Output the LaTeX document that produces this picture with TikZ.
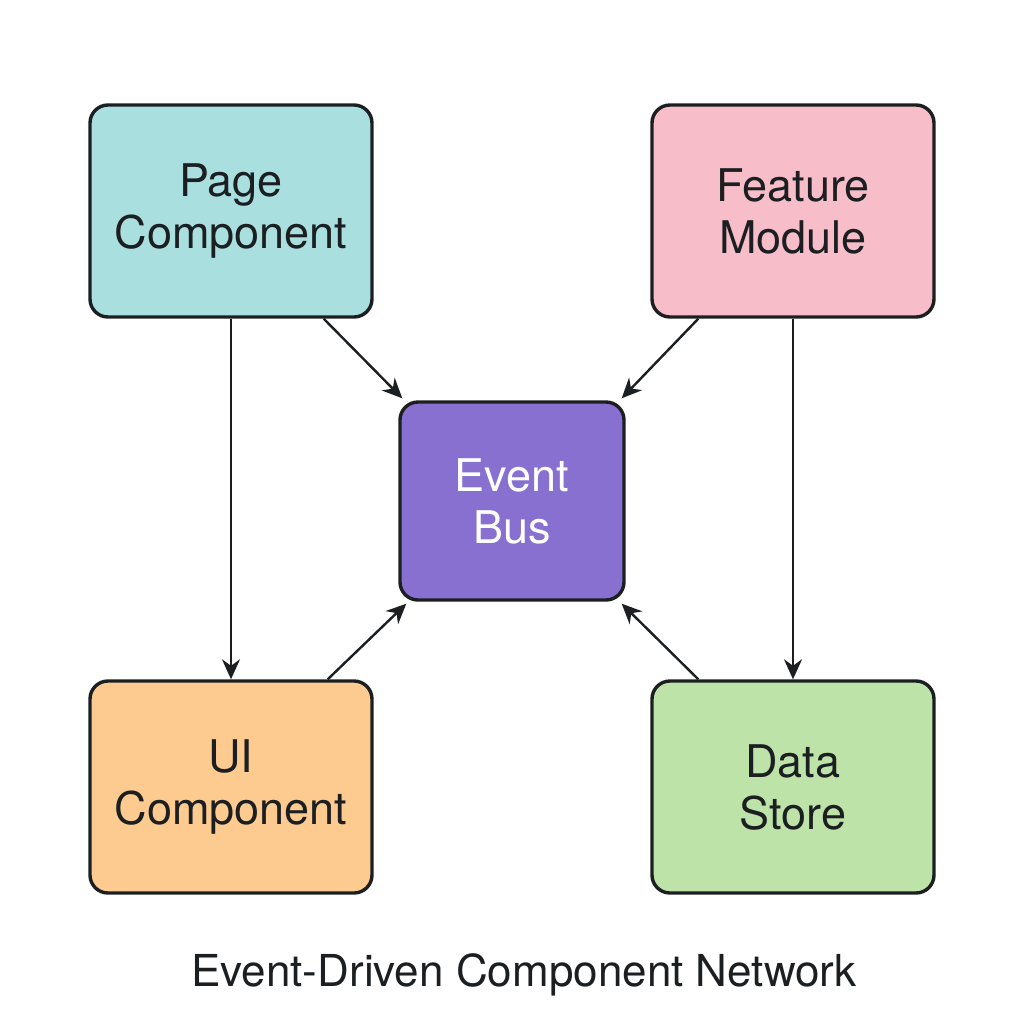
\documentclass[tikz,border=0pt]{standalone}
\usepackage{fontspec}
\setmainfont{TeX Gyre Heros}
\usetikzlibrary{arrows.meta}

\definecolor{pagecol}{HTML}{A9E0DF}
\definecolor{featcol}{HTML}{F7BDC9}
\definecolor{buscol}{HTML}{8870D0}
\definecolor{uicol}{HTML}{FDCB8F}
\definecolor{datacol}{HTML}{BEE3A9}
\definecolor{inkcol}{HTML}{1C1F22}

\begin{document}
\begin{tikzpicture}[x=0.5pt,y=-0.5pt,
  comp/.style={draw=inkcol,line width=1.7pt,rounded corners=9pt,
    minimum width=141pt,minimum height=106pt,align=center,
    font=\fontsize{22.5}{26}\selectfont,text=inkcol},
  link/.style={draw=inkcol,line width=1.2pt,-{Stealth[length=10pt,width=9pt]}}]

  \useasboundingbox[fill=white] (0,0) rectangle (1024,1024);

  \node[comp,fill=pagecol] (page) at (231,211) {Page\\Component};
  \node[comp,fill=featcol] (feat) at (793,211) {Feature\\Module};
  \node[comp,fill=buscol,minimum width=112pt,minimum height=99pt,text=white] (bus) at (512,501) {Event\\Bus};
  \node[comp,fill=uicol] (ui) at (231,787) {UI\\Component};
  \node[comp,fill=datacol] (data) at (793,787) {Data\\Store};

  \draw[link] (page.south) -- (ui.north);
  \draw[link] (feat.south) -- (data.north);
  \draw[link] ([xshift=-25pt]page.south east) -- ([xshift=2pt,yshift=1pt]bus.north west);
  \draw[link] ([xshift=24pt]feat.south west) -- ([xshift=-2pt,yshift=1pt]bus.north east);
  \draw[link] ([xshift=-23pt]ui.north east) -- ([xshift=4pt,yshift=-1pt]bus.south west);
  \draw[link] ([xshift=24pt]data.north west) -- ([xshift=-2pt,yshift=-1pt]bus.south east);

  \node[font=\fontsize{22}{26}\selectfont,text=inkcol] (title) at (524,975) {Event-Driven Component Network};

\end{tikzpicture}
\end{document}
